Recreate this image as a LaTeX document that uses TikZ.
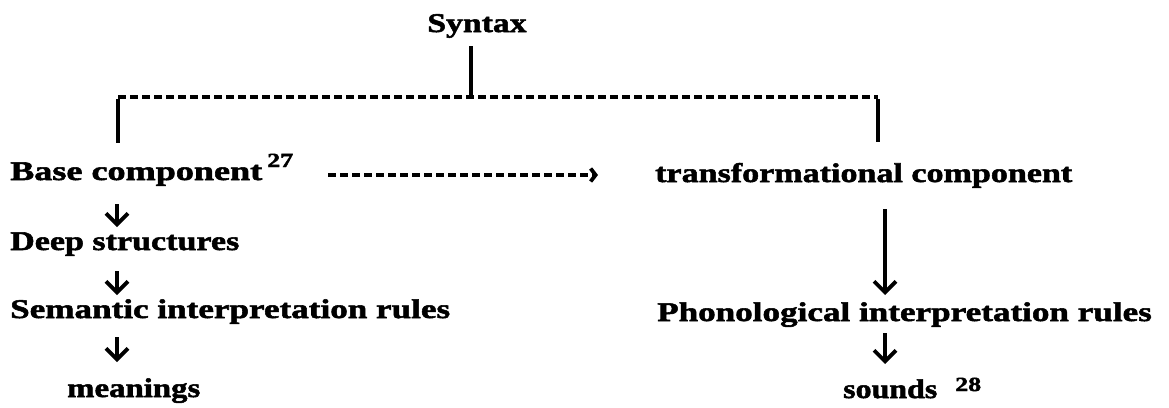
\documentclass[tikz,border=0pt]{standalone}
\usepackage{fontspec}
\usepackage{graphicx}
\usetikzlibrary{arrows.meta}
\newfontfamily\diagfont{Liberation Serif}[FakeStretch=1.3,FakeBold=2]
% horizontal squeeze/stretch of a label
\newcommand{\hs}[2]{\scalebox{#1}[1]{#2}}
\tikzset{
  lbl/.style={inner sep=0pt, anchor=base west, font=\diagfont\bfseries\fontsize{27}{30}\selectfont},
  supnum/.style={inner sep=0pt, anchor=base west, font=\diagfont\bfseries\fontsize{20}{22}\selectfont},
  solidline/.style={line width=3.8pt},
  dashline/.style={line width=3.2pt, dash pattern=on 8pt off 4pt},
  downarrow/.style={line width=3.8pt, -{Straight Barb[length=11pt,width=22pt,line width=3.8pt]}},
  dasharrow/.style={line width=3.2pt, dash pattern=on 8pt off 4pt, -{Straight Barb[length=5pt,width=13pt,line width=3.8pt]}}
}
\begin{document}
\begin{tikzpicture}[x=1pt,y=-1pt]
\useasboundingbox (0,0) rectangle (1169,407);

% text nodes
\node[lbl, anchor=base] (syn) at (477,32) {\hs{0.96}{Syntax}};
\node[lbl] (base) at (10,180) {\hs{1.03}{Base component}};
\node[supnum] (n27) at (267,167) {27};
\node[lbl] (trans) at (655,182) {\hs{0.97}{transformational component}};
\node[lbl] (deep) at (10,250) {\hs{0.97}{Deep structures}};
\node[lbl] (sem) at (10,318) {Semantic interpretation rules};
\node[lbl] (mean) at (67,397) {\hs{0.935}{meanings}};
\node[lbl] (phon) at (657,321) {Phonological interpretation rules};
\node[lbl] (snd) at (843,398) {\hs{0.91}{sounds}};
\node[supnum] (n28) at (955,391) {28};

% tree under Syntax
\coordinate (top) at (471,46);
\coordinate (mid) at (471,97);
\coordinate (lt) at (118,97);
\coordinate (rt) at (878,97);
\coordinate (lb) at (118,143);
\coordinate (rb) at (878,142);
\draw[solidline] (top) -- (mid);
\draw[dashline] (lt) -- (rt);
\draw[solidline] ([yshift=-2pt]lt) -- (lb);
\draw[solidline] ([yshift=-2pt]rt) -- (rb);

% dashed arrow between the components
\coordinate (da1) at (328,175);
\coordinate (da2) at (598,175);
\draw[dasharrow] (da1) -- (da2);

% left chain
\coordinate (a1s) at (117,204);
\coordinate (a1e) at (117,227);
\coordinate (a2s) at (117,271);
\coordinate (a2e) at (117,295);
\coordinate (a3s) at (117,337);
\coordinate (a3e) at (117,362);
\draw[downarrow] (a1s) -- (a1e);
\draw[downarrow] (a2s) -- (a2e);
\draw[downarrow] (a3s) -- (a3e);

% right chain
\coordinate (b1s) at (885,209);
\coordinate (b1e) at (885,295);
\coordinate (b2s) at (885,333);
\coordinate (b2e) at (885,364);
\draw[downarrow] (b1s) -- (b1e);
\draw[downarrow] (b2s) -- (b2e);
\end{tikzpicture}
\end{document}
